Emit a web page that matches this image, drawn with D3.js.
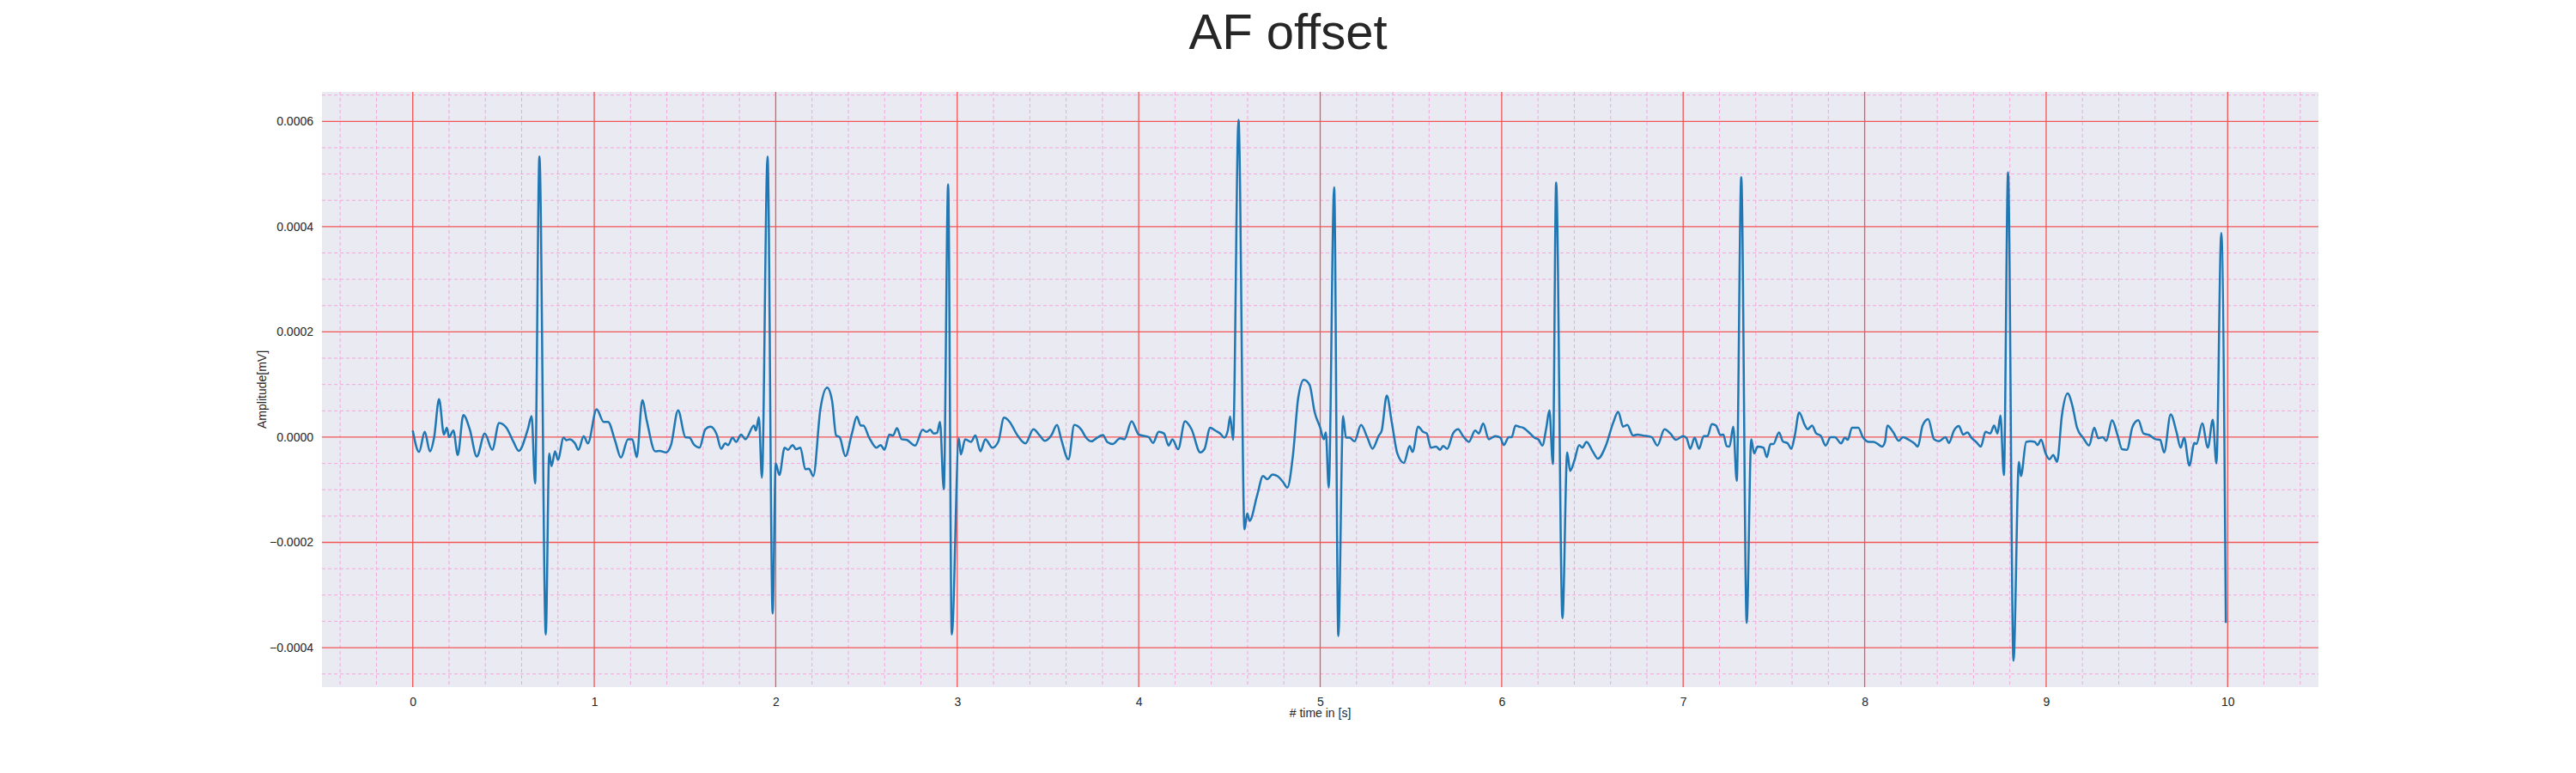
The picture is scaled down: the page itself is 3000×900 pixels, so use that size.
<!DOCTYPE html>
<html>
<head>
<meta charset="utf-8">
<script src="https://cdn.jsdelivr.net/npm/d3@7"></script>
<style>
  body { margin: 0; background: #fff; }
  svg { display: block; font-family: "Liberation Sans", Arial, sans-serif; }
</style>
</head>
<body>
<div id="chart"></div>
<script>
// ECG trace, time in s, amplitude in units of 1e-5 mV
const time = [
  0.0, 0.035, 0.066, 0.095, 0.118, 0.145, 0.172, 0.188, 0.2, 0.224, 0.248, 0.279, 0.314, 0.353, 0.397, 0.438, 0.476, 0.516, 0.555, 0.584, 0.634, 0.655, 0.674,
  0.698, 0.733,
  0.752, 0.765, 0.784, 0.8, 0.831, 0.847, 0.863, 0.894, 0.913, 0.942, 0.965, 1.013, 1.052, 1.076, 1.115, 1.147, 1.186, 1.21, 1.234, 1.265, 1.289, 1.336, 1.36, 1.396, 1.423, 1.462, 1.502, 1.525, 1.549, 1.58, 1.612, 1.64, 1.675, 1.699, 1.722, 1.738, 1.762, 1.782, 1.809, 1.833, 1.88, 1.891, 1.907, 1.924,
  1.955, 1.983,
  2.0, 2.02, 2.049, 2.068, 2.093, 2.112, 2.136, 2.163, 2.183, 2.207, 2.246, 2.283, 2.31, 2.333, 2.352, 2.384, 2.42, 2.447, 2.468, 2.483, 2.515, 2.555, 2.578, 2.599, 2.626, 2.646, 2.668, 2.694, 2.72, 2.768, 2.81, 2.831, 2.851, 2.87, 2.889, 2.905, 2.926,
  2.95, 2.97,
  3.009, 3.02, 3.044, 3.076, 3.1, 3.128, 3.155, 3.194, 3.226, 3.258, 3.289, 3.329, 3.376, 3.42, 3.455, 3.483, 3.518, 3.55, 3.573, 3.613, 3.645, 3.684, 3.708, 3.739, 3.771, 3.803, 3.826, 3.858, 3.897, 3.921, 3.961, 4.0,
  4.055, 4.079, 4.11, 4.139, 4.165, 4.186, 4.217, 4.255, 4.291, 4.339, 4.362, 4.394, 4.422, 4.449, 4.472, 4.491, 4.504, 4.52,
  4.55,
  4.583, 4.598, 4.611, 4.653, 4.685, 4.709, 4.737, 4.764, 4.795, 4.819, 4.85, 4.879, 4.91, 4.942, 4.969, 5.0, 5.02, 5.031, 5.047,
  5.077, 5.10,
  5.126, 5.142, 5.162, 5.189, 5.225, 5.26, 5.288, 5.323, 5.339, 5.367, 5.394, 5.425, 5.461, 5.493, 5.509, 5.54, 5.567, 5.587, 5.61, 5.638, 5.661, 5.677, 5.7, 5.732, 5.76, 5.787, 5.819, 5.854, 5.874, 5.898, 5.929, 5.965, 5.992, 6.012, 6.039, 6.055, 6.076, 6.094,
  6.117, 6.156, 6.18, 6.204, 6.224, 6.246, 6.263, 6.282,
  6.30, 6.335,
  6.361, 6.377, 6.4, 6.427, 6.445, 6.467, 6.503, 6.53, 6.574, 6.614, 6.642, 6.669, 6.692, 6.724, 6.748, 6.779, 6.826, 6.858, 6.897, 6.929, 6.96, 7.0, 7.019, 7.039, 7.063, 7.087, 7.113, 7.134, 7.158, 7.181, 7.205, 7.221, 7.24, 7.255, 7.276, 7.295,
  7.32, 7.35,
  7.375, 7.391, 7.41, 7.442, 7.461, 7.481, 7.497, 7.528, 7.549, 7.576, 7.596, 7.615, 7.639, 7.67, 7.686, 7.71, 7.733, 7.757, 7.785, 7.812, 7.836, 7.87, 7.891, 7.907, 7.93, 7.965, 7.99, 8.025, 8.049, 8.072, 8.096, 8.112,
  8.125, 8.156, 8.188, 8.211, 8.243, 8.274, 8.293, 8.319, 8.35, 8.382, 8.409, 8.445, 8.464, 8.492, 8.519, 8.543, 8.566, 8.59, 8.614, 8.64, 8.666, 8.692, 8.713, 8.732, 8.748, 8.767,
  8.79, 8.82,
  8.85, 8.861, 8.89, 8.913, 8.937, 8.953, 8.972, 8.997, 9.019, 9.039, 9.06, 9.087, 9.118, 9.145, 9.17, 9.205, 9.237, 9.265, 9.287, 9.312, 9.331, 9.363, 9.394, 9.418, 9.445, 9.476, 9.508, 9.536, 9.568, 9.603, 9.628, 9.65, 9.686, 9.718, 9.741, 9.76, 9.789, 9.817, 9.828, 9.86, 9.891, 9.918, 9.938,
  9.965, 9.99
];
const ampE5 = [
  1.25, -2.8, 1.0, -2.7, 0, 7.2, 0.5, 1.8, 0, 1.25, -3.4, 4.2, 1.5, -3.7, 0.7, -2.4, 2.7, 1.8, -0.9, -2.6, 1.5, 4.0, -8.8,
  53.3, -37.5,
  -3.1, -5.5, -2.7, -4.3, -0.1, -0.6, -0.4, -1.2, -2.4, 0.2, -1.2, 5.3, 2.9, 2.9, -0.7, -3.9, -0.4, -0.4, -3.8, 7.0, 3.2, -2.7, -2.6, -2.9, -1.5, 5.1, 0, -0.1, -1.4, -2.0, 1.5, 2.0, 0.5, -2.2, -1.2, -1.5, -0.1, -0.9, 0.5, -0.4, 2.2, 1.25, 3.8, -7.7,
  53.3, -33.5,
  -5.0, -7.2, -2.0, -2.4, -1.5, -2.3, -2.0, -6.1, -6.0, -7.4, 5.3, 9.4, 7.0, 0.3, 0, -3.6, 0.7, 3.9, 2.2, 2.2, -0.1, -2.0, -1.5, -2.4, 0.5, 0.3, 1.7, -0.4, -0.5, -1.6, 1.4, 1.0, 1.4, 0.7, 0.8, 2.9, -9.9,
  48.0, -37.5,
  -0.2, -3.3, -0.4, -0.9, 0.3, -2.7, -0.4, -2.0, -0.9, 3.7, 2.9, 0.5, -1.2, 1.5, 0.3, -0.7, 0.3, 2.3, -0.4, -4.2, 2.3, 1.4, 0, -0.8, -0.1, 0.4, -0.9, -1.3, -0.2, -0.4, 3.0, 0.5,
  0, -1.1, 1.0, 0.7, -1.6, -0.4, -2.3, 3.0, 1.5, -2.9, -2.3, 1.8, 1.25, 0.7, -0.1, 1.25, 3.9, -0.5,
  60.3,
  -17.5, -14.5, -15.9, -11.0, -7.4, -8.0, -7.1, -7.4, -8.5, -9.6, -3.4, 7.5, 10.9, 9.9, 4.8, 1.8, -0.4, 0.9, -9.6,
  47.5, -37.8,
  4.0, -0.1, -0.1, -0.8, 2.3, -0.1, -2.2, 0.3, 1.25, 7.9, 2.9, -3.1, -4.9, -1.7, -2.8, 2.0, 1.0, 0.7, -2.0, -1.8, -2.4, -1.7, -2.2, 0.7, 1.5, 0.2, -0.9, 1.25, 0.7, 2.6, -0.4, 0.2, -0.1, -1.5, 0, 0, 2.2, 2.0,
  1.8, 0.7, -0.1, -0.5, -1.6, 1.8, 5.1, -5.1,
  48.4, -34.4,
  -2.9, -6.4, -4.5, -1.5, -2.0, -0.9, -2.8, -4.1, -1.6, 2.7, 4.8, 2.0, 2.3, 0.3, 0.5, 0.3, 0, -1.6, 1.5, 0.7, -0.5, 0.2, -0.2, -2.2, -0.1, -2.2, 0.2, 0.2, 2.5, 2.2, 0.4, 0.5, -1.7, -1.8, 2.0, -8.3,
  49.4, -35.3,
  -0.4, -3.1, -1.8, -2.0, -3.8, -1.3, -1.3, 0.9, -0.8, -1.2, -2.2, 0.3, 4.7, 2.3, 1.5, 2.2, 0.7, 0.3, -1.6, 0, 0, -1.2, -0.1, -0.5, 1.8, 1.8, 0, -0.9, -0.9, -1.3, -1.8, -0.9,
  2.2, 1.0, -0.7, 0, -0.5, -1.2, -1.8, 2.2, 3.4, -0.4, -0.8, 0, -1.1, 1.25, 2.1, 0.5, 0.9, -0.2, -0.9, -1.8, 1.0, 0.7, 2.2, 0.7, 4.1, -7.2,
  50.3, -42.5,
  -4.7, -7.4, -0.9, -0.8, -0.9, -1.5, -0.5, -3.1, -4.2, -3.4, -4.7, 4.2, 8.3, 5.9, 1.8, -0.2, -1.6, 1.8, -0.2, 0, -0.7, 3.2, 0.3, -2.3, -2.4, 2.0, 3.2, 0.7, 0.4, -0.4, -0.5, -2.9, 4.3, 1.0, -2.0, -0.1, -5.4, -1.1, -1.3, 2.6, -2.0, 3.3, -5.0,
  38.8, -35.3
];
const xTicks = [0, 1, 2, 3, 4, 5, 6, 7, 8, 9, 10];
const yTicks = [-0.0004, -0.0002, 0, 0.0002, 0.0004, 0.0006];
const title = 'AF offset';
const xLabel = '# time in [s]';
const yLabel = 'Amplitude[mV]';

const W = 3000, H = 900;
const m = { top: 107, right: 300, bottom: 100, left: 375 };
const iw = W - m.left - m.right, ih = H - m.top - m.bottom;

const data = time.map((t, i) => ({ t, v: ampE5[i] * 1e-5 }));

const x = d3.scaleLinear().domain([-0.5, 10.5]).range([0, iw]);
const y = d3.scaleLinear().domain([-0.000475, 0.000656]).range([ih, 0]);

const svg = d3.select('#chart').append('svg').attr('width', W).attr('height', H);
const g = svg.append('g').attr('transform', `translate(${m.left},${m.top})`);

g.append('rect').attr('width', iw).attr('height', ih).attr('fill', '#eaeaf2');

// minor grid
const xMinor = d3.range(-2, 53).map(i => i * 0.2).filter(v => v >= -0.5 && v <= 10.5 && Math.abs(v - Math.round(v)) > 1e-6);
const yMinor = d3.range(-10, 14).map(i => i * 0.00005).filter(v => y(v) >= 0 && y(v) <= ih && Math.abs(v / 0.0002 - Math.round(v / 0.0002)) > 1e-6);
g.append('g').selectAll('line').data(xMinor).join('line')
  .attr('x1', d => x(d)).attr('x2', d => x(d)).attr('y1', 0).attr('y2', ih)
  .attr('stroke', '#f4a6dc').attr('stroke-width', 1).attr('stroke-dasharray', '4,3');
g.append('g').selectAll('line').data(yMinor).join('line')
  .attr('y1', d => y(d)).attr('y2', d => y(d)).attr('x1', 0).attr('x2', iw)
  .attr('stroke', '#f4a6dc').attr('stroke-width', 1).attr('stroke-dasharray', '4,3');

// major grid
g.append('g').selectAll('line').data(xTicks).join('line')
  .attr('x1', d => x(d)).attr('x2', d => x(d)).attr('y1', 0).attr('y2', ih)
  .attr('stroke', '#f25555').attr('stroke-width', 1.3);
g.append('g').selectAll('line').data(yTicks).join('line')
  .attr('y1', d => y(d)).attr('y2', d => y(d)).attr('x1', 0).attr('x2', iw)
  .attr('stroke', '#f25555').attr('stroke-width', 1.3);

// axes (labels only)
const xAxis = g.append('g').attr('transform', `translate(0,${ih})`)
  .call(d3.axisBottom(x).tickValues(xTicks).tickSize(0).tickPadding(12).tickFormat(d3.format('d')));
const yAxis = g.append('g')
  .call(d3.axisLeft(y).tickValues(yTicks).tickSize(0).tickPadding(10)
    .tickFormat(d => (d < 0 ? '\u2212' : '') + Math.abs(d).toFixed(4)));
[xAxis, yAxis].forEach(a => {
  a.select('.domain').remove();
  a.selectAll('text').attr('font-size', 14).attr('fill', '#262626')
    .attr('font-family', '"Liberation Sans", Arial, sans-serif');
});

// signal
g.append('path').datum(data)
  .attr('fill', 'none').attr('stroke', '#1f77b4').attr('stroke-width', 2.5)
  .attr('stroke-linejoin', 'round')
  .attr('d', d3.line().x(d => x(d.t)).y(d => y(d.v)).curve(d3.curveMonotoneX));

svg.append('text').attr('x', W / 2).attr('y', 57).attr('text-anchor', 'middle')
  .attr('font-size', 58).attr('fill', '#262626').text(title);
svg.append('text').attr('x', m.left + iw / 2).attr('y', 835).attr('text-anchor', 'middle')
  .attr('font-size', 14).attr('fill', '#262626').text(xLabel);
svg.append('text').attr('transform', `translate(310,${m.top + ih / 2}) rotate(-90)`)
  .attr('text-anchor', 'middle').attr('font-size', 14).attr('fill', '#262626').text(yLabel);
</script>
</body>
</html>
